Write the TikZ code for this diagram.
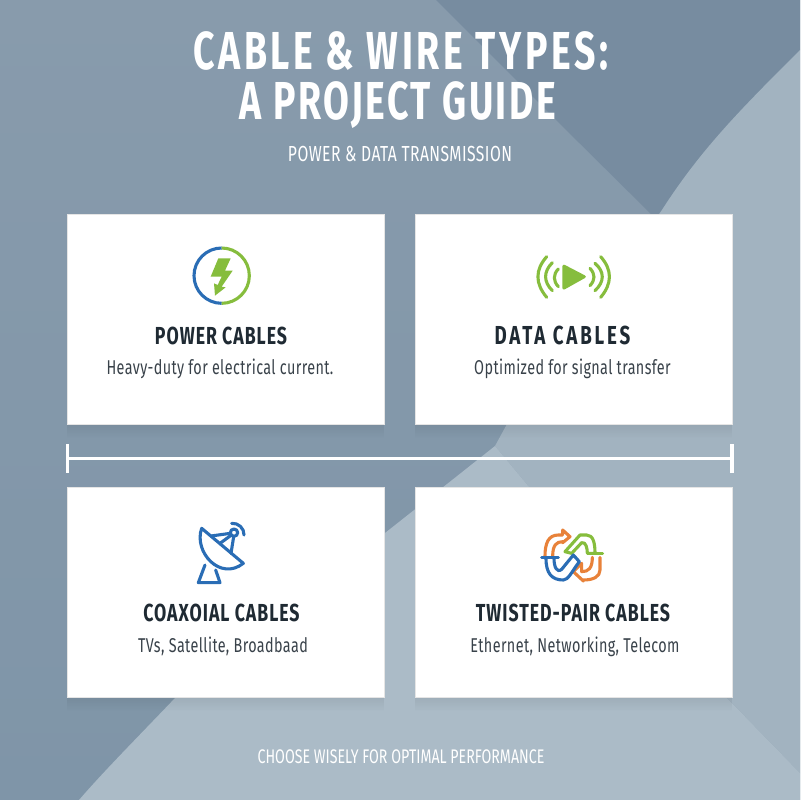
\documentclass[tikz,border=0pt]{standalone}
\usepackage{fontspec}
\usetikzlibrary{arrows.meta,fadings}
\newfontfamily\titlefont[FakeStretch=0.70]{Fira Sans}
\newfontfamily\plainfont[FakeStretch=0.72]{Fira Sans}
\definecolor{basetop}{HTML}{889BAC}
\definecolor{basebot}{HTML}{7F95A8}
\definecolor{darkfacet}{HTML}{778CA0}
\definecolor{lightfacet}{HTML}{A2B3C0}
\definecolor{midfacet}{HTML}{ABBBC7}
\definecolor{wireblue}{HTML}{2A6DB5}
\definecolor{wiregreen}{HTML}{86BD3D}
\definecolor{wireorange}{HTML}{E8823A}
\definecolor{inkdark}{HTML}{1F2A33}
\definecolor{inkbody}{HTML}{39424A}
\tikzset{
  card/.style={draw=black!10,line width=0.5pt,fill=white,minimum width=7.925cm,minimum height=5.25cm,inner sep=0pt},
  cardshadow/.style={fill=black,opacity=0.07,path fading=south},
  heading/.style={anchor=base,inner sep=0pt,text=inkdark,font=\plainfont\bfseries\fontsize{17.5}{20}\selectfont\addfontfeature{LetterSpace=4}},
  bodytext/.style={anchor=base,inner sep=0pt,text=inkbody,font=\plainfont\fontsize{14.2}{16}\selectfont\addfontfeature{LetterSpace=2}},
  whitetext/.style={anchor=base,inner sep=0pt,text=white},
  barline/.style={draw=white,line width=2pt,{Bar[width=20pt,line width=2.2pt]}-{Bar[width=20pt,line width=2.2pt]}},
  icon/.style={line width=2.2pt,line cap=round,line join=round},
  zoomed/.style={x=0.025cm/3,y=-0.025cm/3}
}
\begin{document}
\begin{tikzpicture}[x=0.025cm,y=-0.025cm]
\useasboundingbox (0,0) rectangle (800,800);
% background facets
\fill[top color=basetop,bottom color=basebot] (0,0) rectangle (800,800);
\fill[darkfacet] (436,0) -- (556,120) -- (655,218) -- (800,50) -- (800,0) -- cycle;
\fill[lightfacet] (800,50) .. controls (740,110) and (700,150) .. (660,213) -- (507,424) -- (495,446) -- (530,488) -- (727,698) -- (800,773) -- cycle;
\fill[midfacet] (495,446) -- (442,488) -- (385,533) -- (176,697) .. controls (135,740) and (105,770) .. (79,800) -- (800,800) -- (800,773) -- (727,698) -- (530,488) -- cycle;

% title
\node[whitetext,font=\titlefont\bfseries\fontsize{38}{40}\selectfont\addfontfeature{LetterSpace=6.9}] (title1) at (401,70) {CABLE \& WIRE TYPES:};
\node[whitetext,font=\titlefont\bfseries\fontsize{38}{40}\selectfont\addfontfeature{LetterSpace=4.7}] (title2) at (398,120) {A PROJECT GUIDE};
\node[whitetext,font=\plainfont\fontsize{15.5}{18}\selectfont\addfontfeature{LetterSpace=2}] (subtitle) at (400,162) {POWER \& DATA TRANSMISSION};

% cards
\fill[cardshadow] (67,424) rectangle (384,438);
\fill[cardshadow] (415,424) rectangle (732,438);
\fill[cardshadow] (67,697) rectangle (384,711);
\fill[cardshadow] (415,697) rectangle (732,711);
\node[card] (power) at (225.5,319) {};
\node[card] (data) at (573.5,319) {};
\node[card] (coax) at (225.5,592.5) {};
\node[card] (twisted) at (573.5,592.5) {};

\node[heading] (powerhead) at (221,344) {POWER CABLES};
\node[bodytext] (powerbody) at (220,374) {Heavy-duty for electrical current.};
\node[heading,font=\plainfont\bfseries\fontsize{18.5}{20}\selectfont\addfontfeature{LetterSpace=11}] (datahead) at (562.5,344) {DATA CABLES};
\node[bodytext] (databody) at (572.5,374) {Optimized for signal transfer};
\node[heading] (coaxhead) at (221.5,621) {COAXOIAL CABLES};
\node[bodytext] (coaxbody) at (223,652) {TVs, Satellite, Broadbaad};
\node[heading] (twistedhead) at (573,621) {TWISTED-PAIR CABLES};
\node[bodytext] (twistedbody) at (575,652) {Ethernet, Networking, Telecom};

% divider
\coordinate (barleft) at (65.5,458.5);
\coordinate (barright) at (733.5,458.5);
\draw[barline] (barleft) -- (barright);

% power icon
\begin{scope}[shift={(170,230)},zoomed]
\draw[icon,wireblue,line cap=butt] (155,54) arc[start angle=-90,end angle=-270,radius=83];
\draw[icon,wiregreen,line cap=butt] (155,54) arc[start angle=-90,end angle=90,radius=83];
\fill[wiregreen] (145,85) -- (182,85) -- (165,122) -- (188,122) -- (155,170) -- (167,172) -- (135,197) -- (132,160) -- (143,165) -- (155,140) -- (122,140) -- cycle;
\end{scope}

% data icon
\begin{scope}[shift={(520,235)},zoomed]
\fill[wiregreen,rounded corners=2pt] (127,86) -- (202,125) -- (127,167) -- cycle;
\draw[icon,wiregreen] (80,65) .. controls (45,105) and (45,145) .. (80,187);
\draw[icon,wiregreen] (97,83) .. controls (70,110) and (70,140) .. (97,167);
\draw[icon,wiregreen] (115,102) .. controls (99,118) and (99,138) .. (115,155);
\draw[icon,wiregreen] (210,100) .. controls (226,118) and (226,134) .. (210,152);
\draw[icon,wiregreen] (225,85) .. controls (254,110) and (254,140) .. (225,167);
\draw[icon,wiregreen] (242,65) .. controls (277,105) and (277,145) .. (242,187);
\end{scope}

% coax icon
\begin{scope}[shift={(175,510)},zoomed,icon,wireblue]
\draw (80,55) -- (205,160) .. controls (135,215) and (55,125) .. cycle;
\draw (108,78) -- (166,70);
\draw (168,130) -- (176,80);
\draw (135,100) -- (168,76);
\draw (177,68) circle[radius=11];
\draw (170,40) .. controls (190,38) and (208,55) .. (207,75);
\draw (90,165) -- (70,218) -- (135,218) -- (122,180);
\end{scope}

% twisted icon
\begin{scope}[shift={(530,520)},zoomed,icon]
\draw[wireorange] (45,108) .. controls (45,70) and (55,45) .. (85,45) -- (98,45) -- (98,30) -- (120,50) -- (98,68) -- (98,65) .. controls (80,65) and (68,75) .. (68,108);
\draw[wireorange] (210,112) -- (210,150) .. controls (210,170) and (190,180) .. (160,180) -- (160,183) -- (130,155) -- (155,130) -- (155,155) .. controls (175,155) and (187,145) .. (187,112);
\draw[wiregreen,fill=white] (105,95) -- (150,45) -- (170,45) .. controls (190,45) and (195,70) .. (195,100) -- (172,100) .. controls (172,85) and (168,65) .. (155,68) -- (125,100) -- cycle;
\draw[wiregreen] (175,100) -- (218,100);
\draw[wireblue,fill=white] (48,115) .. controls (48,160) and (65,180) .. (100,180) .. controls (115,180) and (125,155) .. (148,125) -- (130,105) -- (95,148) .. controls (80,160) and (72,140) .. (72,115);
\draw[wireblue] (35,112) -- (85,112);
\end{scope}

% footer
\node[whitetext,font=\plainfont\fontsize{14}{16}\selectfont] (footer) at (401,763) {CHOOSE WISELY FOR OPTIMAL PERFORMANCE};
\end{tikzpicture}
\end{document}
